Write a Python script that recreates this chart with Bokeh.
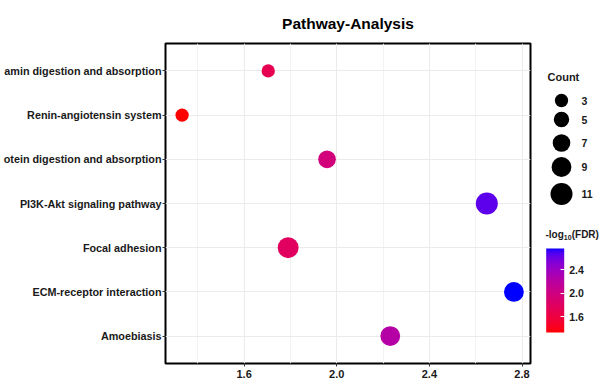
import numpy as np
from bokeh.plotting import figure
from bokeh.models import (ColumnDataSource, FactorRange, Range1d, FixedTicker,
                          LinearColorMapper, ColorBar, Label, PrintfTickFormatter)
from bokeh.layouts import row
from bokeh.transform import transform
from bokeh.embed import file_html
from bokeh.resources import INLINE
from bokeh.core.properties import value

# ---------------- data ----------------
pathways = ["Amoebiasis",
            "ECM-receptor interaction",
            "Focal adhesion",
            "PI3K-Akt signaling pathway",
            "otein digestion and absorption",
            "Renin-angiotensin system",
            "amin digestion and absorption"]
neg_log10_fdr = [2.231, 2.765, 1.790, 2.648, 1.958, 1.332, 1.704]
counts = [9, 9, 10, 11, 7, 3, 3]

x_ticks = [1.6, 2.0, 2.4, 2.8]
x_minor_ticks = [1.4, 1.8, 2.2, 2.6]
legend_counts = [3, 5, 7, 9, 11]
colorbar_ticks = [1.6, 2.0, 2.4]

FONT = "Liberation Sans"
TXT = "#1a1a1a"

# ---------------- colour ramp (red -> blue, interpolated in CIELAB) ----------------
M = np.array([[0.4124, 0.3576, 0.1805],
              [0.2126, 0.7152, 0.0722],
              [0.0193, 0.1192, 0.9505]])
WHITE = np.array([0.95047, 1.0, 1.08883])


def to_lab(rgb):
    c = np.asarray(rgb, float) / 255
    lin = np.where(c <= 0.04045, c / 12.92, ((c + 0.055) / 1.055) ** 2.4)
    xyz = M @ lin / WHITE
    f = np.where(xyz > (6 / 29) ** 3, np.cbrt(xyz), xyz / (3 * (6 / 29) ** 2) + 4 / 29)
    return np.array([116 * f[1] - 16, 500 * (f[0] - f[1]), 200 * (f[1] - f[2])])


def to_hex(lab):
    fy = (lab[0] + 16) / 116
    f = np.array([fy + lab[1] / 500, fy, fy - lab[2] / 200])
    xyz = np.where(f > 6 / 29, f ** 3, 3 * (6 / 29) ** 2 * (f - 4 / 29)) * WHITE
    lin = np.clip(np.linalg.inv(M) @ xyz, 0, 1)
    s = np.where(lin <= 0.0031308, 12.92 * lin, 1.055 * lin ** (1 / 2.4) - 0.055)
    r, g, b = np.round(s * 255).astype(int)
    return f"#{r:02x}{g:02x}{b:02x}"


lab_lo, lab_hi = to_lab([255, 0, 0]), to_lab([0, 0, 255])
palette = [to_hex(lab_lo + (lab_hi - lab_lo) * t) for t in np.linspace(0, 1, 256)]

fmin, fmax = min(neg_log10_fdr), max(neg_log10_fdr)
mapper = LinearColorMapper(palette=palette, low=fmin, high=fmax)

cmin, cmax = min(legend_counts), max(legend_counts)


def count_to_size(c):
    return 13.3 + 8.7 * (c - cmin) / (cmax - cmin)


src = ColumnDataSource(dict(pathway=pathways, fdr=neg_log10_fdr, count=counts,
                            size=[count_to_size(c) for c in counts]))

pad = 0.05 * (fmax - fmin)

FH = 320  # frame height
TOP = 43  # space above the frame (title)
BOTTOM = 18  # space below the frame (x axis)

# ---------------- main plot ----------------
p = figure(output_backend="svg", toolbar_location=None,
           x_range=Range1d(fmin - pad, fmax + pad),
           y_range=FactorRange(factors=pathways, range_padding=0.12,
                               range_padding_units="absolute"),
           frame_width=365, frame_height=FH,
           min_border_left=150, min_border_right=4,
           min_border_top=TOP, min_border_bottom=0,
           title="Pathway-Analysis")

p.title.align = "center"
p.title.text_font = FONT
p.title.text_font_size = "15.5px"
p.title.text_font_style = "bold"
p.title.text_color = "black"
p.title.standoff = 23

p.outline_line_color = "black"
p.outline_line_width = 2
p.background_fill_color = "white"
p.border_fill_color = "white"

tk = FixedTicker(ticks=x_ticks, minor_ticks=x_minor_ticks)
p.xaxis.ticker = tk
p.xgrid.ticker = tk
p.xaxis.formatter = PrintfTickFormatter(format="%.1f")
p.xgrid.grid_line_color = "#ebebeb"
p.xgrid.minor_grid_line_color = "#f3f3f3"
p.ygrid.grid_line_color = "#ebebeb"

for ax in (p.xaxis[0], p.yaxis[0]):
    ax.axis_line_color = None
    ax.major_tick_line_color = "#333333"
    ax.major_tick_out = 3
    ax.major_tick_in = 0
    ax.minor_tick_line_color = None
    ax.major_label_text_font = FONT
    ax.major_label_text_font_style = "bold"
    ax.major_label_text_color = TXT
p.xaxis.major_label_text_font_size = "11px"
p.yaxis.major_label_text_font_size = "10.8px"
p.yaxis.major_label_standoff = 1
p.xaxis.major_label_standoff = 2

p.scatter(x="fdr", y="pathway", size="size", source=src,
          fill_color=transform("fdr", mapper), line_color=None)

# ---------------- legend panel (data units = pixels below the frame top) ----------------
lg = figure(output_backend="svg", toolbar_location=None,
            x_range=Range1d(0, 67), y_range=Range1d(FH, 0),
            frame_width=67, frame_height=FH,
            min_border_left=0, min_border_right=0,
            min_border_top=TOP, min_border_bottom=BOTTOM,
            x_axis_type=None, y_axis_type=None)
lg.outline_line_color = None
lg.grid.visible = False
lg.background_fill_color = "white"
lg.border_fill_color = "white"

off = TOP  # picture y of the frame top
key_y = [v - off for v in (100, 119, 142.5, 166.5, 193.5)]
key_src = ColumnDataSource(dict(x=[27] * len(legend_counts), y=key_y,
                                size=[count_to_size(c) for c in legend_counts],
                                lab=[str(c) for c in legend_counts],
                                lx=[47] * len(legend_counts)))
lg.scatter(x="x", y="y", size="size", source=key_src, fill_color="black", line_color=None)
lg.text(x="lx", y="y", text="lab", source=key_src, text_font=value(FONT),
        text_font_style="bold", text_font_size=value("10.5px"),
        text_baseline="middle", text_color=TXT)

lg.add_layout(Label(x=13, y=76 - off, text="Count", text_font=FONT, text_font_style="bold",
                    text_font_size="11px", text_baseline="middle", text_color=TXT))
lg.add_layout(Label(x=11, y=234 - off, text="-log", text_font=FONT, text_font_style="bold",
                    text_font_size="10px", text_baseline="middle", text_color=TXT))
lg.add_layout(Label(x=29.3, y=237 - off, text="10", text_font=FONT, text_font_style="bold",
                    text_font_size="7px", text_baseline="middle", text_color=TXT))
lg.add_layout(Label(x=37.2, y=234 - off, text="(FDR)", text_font=FONT, text_font_style="bold",
                    text_font_size="10px", text_baseline="middle", text_color=TXT))

cb = ColorBar(color_mapper=mapper, ticker=FixedTicker(ticks=colorbar_ticks),
              formatter=PrintfTickFormatter(format="%.1f"),
              width=18, height=84, padding=0, margin=0,
              location=(11.7, FH - (332 - off)),
              label_standoff=5,
              major_label_text_font=FONT, major_label_text_font_style="bold",
              major_label_text_font_size="10.5px", major_label_text_color=TXT,
              major_tick_line_color="white", major_tick_in=4, major_tick_out=0,
              minor_tick_line_color=None, bar_line_color=None,
              border_line_color=None, background_fill_color=None)
lg.add_layout(cb, "center")

layout = row(p, lg)
open("out.html", "w").write(file_html(layout, INLINE))
